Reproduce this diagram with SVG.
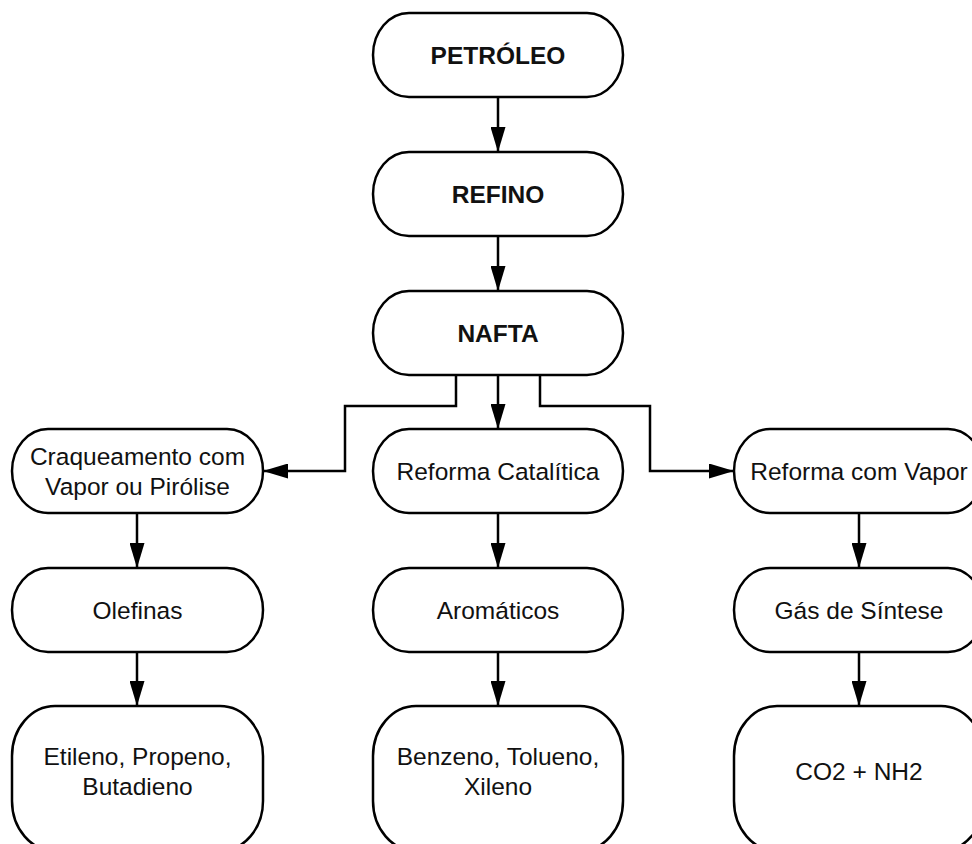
<svg xmlns="http://www.w3.org/2000/svg" width="972" height="844" viewBox="0 0 972 844">
  <defs>
    <marker id="arrow" markerUnits="userSpaceOnUse" markerWidth="25" markerHeight="15" viewBox="0 0 25 15" refX="24" refY="7.5" orient="auto">
      <path d="M0,0 L25,7.5 L0,15 Z" fill="#000"/>
    </marker>
    <style>
      .node { fill: #fff; stroke: #000; stroke-width: 2.5; }
      .link { fill: none; stroke: #000; stroke-width: 2.5; marker-end: url(#arrow); }
      text { font-family: "Liberation Sans", Arial, sans-serif; font-size: 24.5px; fill: #111; text-anchor: middle; }
      .bold { font-weight: bold; }
    </style>
  </defs>
  <rect width="972" height="844" fill="#fff"/>

  <!-- connectors -->
  <g id="connectors">
    <path class="link" d="M498,97 L498,151"/>
    <path class="link" d="M498,236 L498,290"/>
    <path class="link" d="M498,375 L498,428"/>
    <path class="link" d="M456,375 L456,406 L345,406 L345,471 L264,471"/>
    <path class="link" d="M540,375 L540,406 L650,406 L650,471 L733,471"/>
    <path class="link" d="M137,513 L137,567"/>
    <path class="link" d="M498,513 L498,567"/>
    <path class="link" d="M859,513 L859,567"/>
    <path class="link" d="M137,652 L137,705"/>
    <path class="link" d="M498,652 L498,705"/>
    <path class="link" d="M859,652 L859,705"/>
  </g>

  <!-- main chain -->
  <g id="petroleo">
    <rect class="node" x="373" y="13" width="250" height="84" rx="36" ry="42"/>
    <text class="bold" x="498" y="63.5">PETRÓLEO</text>
  </g>
  <g id="refino">
    <rect class="node" x="373" y="152" width="250" height="84" rx="36" ry="42"/>
    <text class="bold" x="498" y="202.5">REFINO</text>
  </g>
  <g id="nafta">
    <rect class="node" x="373" y="291" width="250" height="84" rx="36" ry="42"/>
    <text class="bold" x="498" y="341.5">NAFTA</text>
  </g>

  <!-- processes -->
  <g id="craqueamento">
    <rect class="node" x="12" y="429" width="251" height="84" rx="36" ry="42"/>
    <text x="137.5" y="465">Craqueamento com</text>
    <text x="137.5" y="495">Vapor ou Pirólise</text>
  </g>
  <g id="reforma-catalitica">
    <rect class="node" x="373" y="429" width="250" height="84" rx="36" ry="42"/>
    <text x="498" y="480">Reforma Catalítica</text>
  </g>
  <g id="reforma-vapor">
    <rect class="node" x="734" y="429" width="250" height="84" rx="36" ry="42"/>
    <text x="859" y="480">Reforma com Vapor</text>
  </g>

  <!-- intermediates -->
  <g id="olefinas">
    <rect class="node" x="12" y="568" width="251" height="84" rx="36" ry="42"/>
    <text x="137.5" y="619">Olefinas</text>
  </g>
  <g id="aromaticos">
    <rect class="node" x="373" y="568" width="250" height="84" rx="36" ry="42"/>
    <text x="498" y="619">Aromáticos</text>
  </g>
  <g id="gas-sintese">
    <rect class="node" x="734" y="568" width="250" height="84" rx="36" ry="42"/>
    <text x="859" y="619">Gás de Síntese</text>
  </g>

  <!-- products -->
  <g id="etileno">
    <rect class="node" x="12" y="706" width="251" height="145" rx="43" ry="50"/>
    <text x="137.5" y="765">Etileno, Propeno,</text>
    <text x="137.5" y="795">Butadieno</text>
  </g>
  <g id="benzeno">
    <rect class="node" x="373" y="706" width="250" height="145" rx="43" ry="50"/>
    <text x="498" y="765">Benzeno, Tolueno,</text>
    <text x="498" y="795">Xileno</text>
  </g>
  <g id="co2-nh2">
    <rect class="node" x="734" y="706" width="250" height="145" rx="43" ry="50"/>
    <text x="859" y="780">CO2 + NH2</text>
  </g>
</svg>
